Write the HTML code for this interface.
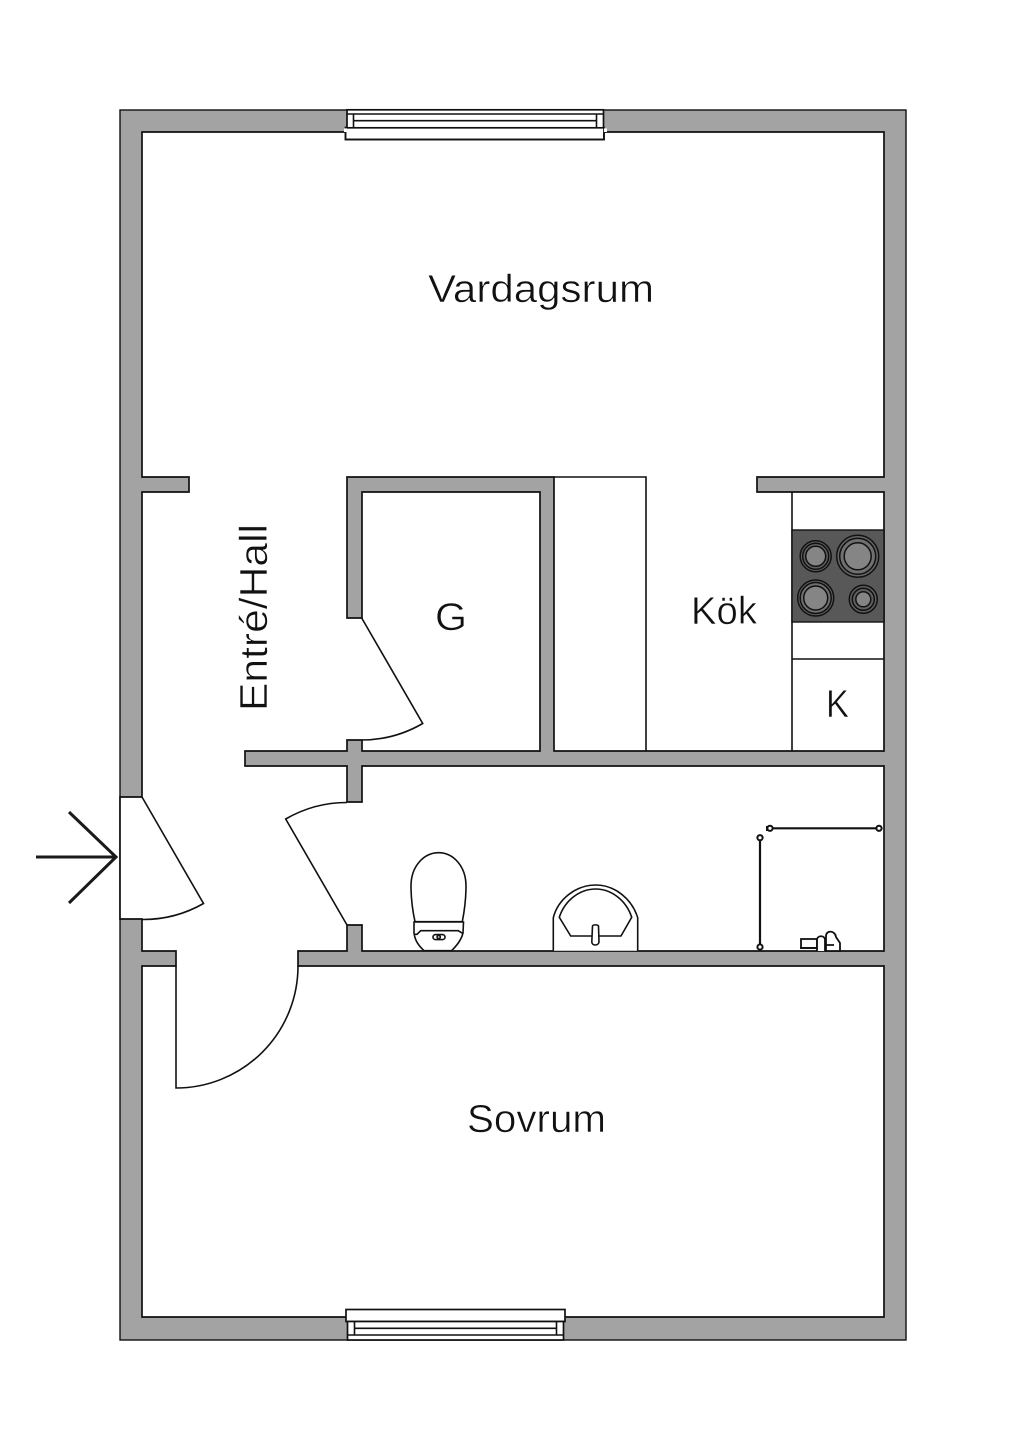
<!DOCTYPE html>
<html><head><meta charset="utf-8"><style>
html,body{margin:0;padding:0;background:#fff}
svg{display:block}
text{font-family:"Liberation Sans",sans-serif;font-size:39px;fill:#111;stroke:#fff;stroke-width:.55px}
</style></head><body>
<svg width="1024" height="1448" viewBox="0 0 1024 1448" xmlns="http://www.w3.org/2000/svg">
<rect width="1024" height="1448" fill="#fff"/>
<rect x="120" y="110" width="786" height="1230" fill="#a3a3a3" stroke="#111" stroke-width="1.4"/>
<path d="M142 132H884V477H757V492H884V751H554V477H347V618H362V492H540V751H362V740H347V751H245V766H347V802H362V766H884V951H362V925H347V951H298V966H884V1317H142V966H176V951H142V919H120V797H142V492H189V477H142Z" fill="#fff" stroke="#111" stroke-width="1.7"/>
<g fill="none" stroke="#111" stroke-width="1.6">
<path d="M554 477H646V751"/>
<path d="M792 492V751M792 659H884"/>
<path d="M176 966V1088A122 122 0 0 0 298 966"/>
<path d="M142 797L203.5 903.5A122 122 0 0 1 142 919.5"/>
<path d="M347 925L285.7 819A122 122 0 0 1 347 802.5"/>
<path d="M361.7 618L422.7 723.5A122 122 0 0 1 361.7 740"/>
</g>
<!-- top window -->
<rect x="345.500" y="127.500" width="258.500" height="12" fill="#fff" stroke="#111" stroke-width="1.7"/>
<rect x="347" y="109.800" width="256.500" height="18" fill="#fff" stroke="#111" stroke-width="1.7"/>
<path d="M347 114H603.500M353.500 114V127.500M596.500 114V127.500M353.500 120.700H596.500" fill="none" stroke="#111" stroke-width="1.6"/>
<path d="M346 127.500H347M603.500 127.500H604" stroke="#111"/>
<rect x="344" y="128.400" width="3" height="3.600" fill="#fff"/>
<rect x="604" y="128.400" width="3" height="3.600" fill="#fff"/>
<path d="M345.500 132V139.500H604V132" fill="none" stroke="#111" stroke-width="1.7"/>
<!-- bottom window -->
<rect x="346" y="1309.500" width="219" height="12" fill="#fff" stroke="#111" stroke-width="1.7"/>
<rect x="347.500" y="1321.500" width="216" height="18.500" fill="#fff" stroke="#111" stroke-width="1.7"/>
<path d="M347.500 1335H563.500M354.500 1321.500V1335M556.500 1321.500V1335M354.500 1328.300H556.500" fill="none" stroke="#111" stroke-width="1.6"/>
<!-- hob -->
<rect x="792" y="530" width="92" height="92" fill="#585858" stroke="#111" stroke-width="1.4"/>
<g stroke="#111" stroke-width="1.5">
<circle cx="815.700" cy="556.300" r="15.500" fill="#5f5f5f"/><circle cx="815.700" cy="556.300" r="13" fill="#5f5f5f"/><circle cx="815.700" cy="556.300" r="10" fill="#858585"/>
<circle cx="857.700" cy="556.300" r="21" fill="#666"/><circle cx="857.700" cy="556.300" r="18" fill="#707070"/><circle cx="857.700" cy="556.300" r="13.500" fill="#858585"/>
<circle cx="815.700" cy="598" r="18" fill="#5f5f5f"/><circle cx="815.700" cy="598" r="15.500" fill="#707070"/><circle cx="815.700" cy="598" r="12" fill="#858585"/>
<circle cx="863.300" cy="599.300" r="14" fill="#5f5f5f"/><circle cx="863.300" cy="599.300" r="11" fill="#5f5f5f"/><circle cx="863.300" cy="599.300" r="7.500" fill="#858585"/>
</g>
<!-- toilet -->
<g fill="#fff" stroke="#111" stroke-width="1.6">
<path d="M415 921.700C412 908 411 897 411 886C411 866 424 852.700 438.700 852.700C453 852.700 466 866 466 886C466 897 465 908 462.300 921.700Z"/>
<path d="M414 922H463.500L463 933C461 941 456 946 451.700 950.700H424C419 946 415 941 414 933Z"/>
<path d="M414.500 934.300H417L420.700 930.700H458.300L462.500 933.300" fill="none"/>
<rect x="433" y="934.600" width="12" height="5" rx="2.500"/>
<circle cx="438.700" cy="937" r="1.600"/>
<!-- sink -->
<path d="M553.300 950.700V917.700C558 899 576 885 595.700 885C615 885 632 899 637.700 917.700V950.700"/>
<path d="M559.300 917.300C565 900 580 889 595.700 889C611 889 626 900 631.700 917.300L621 936H570.700Z"/>
<path d="M592.500 926C593 924.500 598 924.500 598.500 926L599 942C598.500 946 592 946 591.800 942Z"/>
</g>
<!-- shower -->
<g fill="none" stroke="#111" stroke-width="2.200">
<path d="M772 828.300H877"/><path d="M760 840V945"/>
</g>
<g fill="#fff" stroke="#111" stroke-width="2">
<circle cx="770" cy="828.300" r="2.600"/><circle cx="879" cy="828.300" r="2.600"/><circle cx="760" cy="837.700" r="2.600"/><circle cx="760" cy="947" r="2.600"/>
</g>
<rect x="766" y="826" width="2" height="5" fill="#111"/>
<g fill="#fff" stroke="#111" stroke-width="1.800">
<rect x="801" y="939" width="16" height="9"/>
<path d="M817 951V940C817 935 825 935 825 940V951"/>
<path d="M826 951V936C826 930 835 930 836 937L840 943V951Z"/>
<path d="M800 948H816M826 945H834"/>
</g>
<!-- arrow -->
<path d="M36 857H115M69 812L116 857L69 903" fill="none" stroke="#1a1a1a" stroke-width="3"/>
<!-- labels -->
<text x="428" y="302" textLength="226" lengthAdjust="spacingAndGlyphs">Vardagsrum</text>
<text x="467" y="1132" textLength="139" lengthAdjust="spacingAndGlyphs">Sovrum</text>
<text x="691" y="624" textLength="66" lengthAdjust="spacingAndGlyphs">Kök</text>
<text x="435" y="630" textLength="32" lengthAdjust="spacingAndGlyphs">G</text>
<text x="826" y="717" textLength="23" lengthAdjust="spacingAndGlyphs">K</text>
<text transform="translate(267 711) rotate(-90)" textLength="187" lengthAdjust="spacingAndGlyphs">Entré/Hall</text>
</svg>
</body></html>
